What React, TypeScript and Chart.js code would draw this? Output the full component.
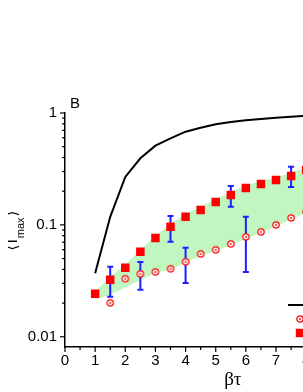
import React, { useEffect, useRef } from "react";
import { Chart, registerables } from "chart.js";

Chart.register(...registerables);

// ---------- data ----------
const xTickValues = [0, 1, 2, 3, 4, 5, 6, 7, 8, 9, 10, 11];
const yTickValues = [0.01, 0.1, 1];
const yTickLabels = ["0.01", "0.1", "1"];
const yMinorTicks = [0.02, 0.03, 0.04, 0.05, 0.06, 0.07, 0.08, 0.09, 0.2, 0.3, 0.4, 0.5, 0.6, 0.7, 0.8, 0.9];

const theoryX = [1, 1.5, 2, 2.5, 3, 3.5, 4, 4.5, 5, 5.5, 6, 6.5, 7, 7.5, 8];
const theoryY = [0.037, 0.118, 0.268, 0.394, 0.51, 0.594, 0.681, 0.739, 0.793, 0.83, 0.861, 0.884, 0.908, 0.926, 0.946];

const upperX = [1, 1.5, 2, 2.5, 3, 3.5, 4, 4.5, 5, 5.5, 6, 6.5, 7, 7.5, 8];
const upperY = [0.0242, 0.0323, 0.0413, 0.0574, 0.0765, 0.096, 0.118, 0.136, 0.16, 0.185, 0.214, 0.232, 0.252, 0.274, 0.31];

const lowerX = [1.5, 2, 2.5, 3, 3.5, 4, 4.5, 5, 5.5, 6, 6.5, 7, 7.5, 8];
const lowerY = [0.0201, 0.033, 0.0365, 0.038, 0.0405, 0.0468, 0.055, 0.0598, 0.0676, 0.0782, 0.0866, 0.1, 0.1155, 0.131];

const bandX = [1, 1.5, 2, 2.5, 3, 3.5, 4, 4.5, 5, 5.5, 6, 6.5, 7, 7.5, 8];
const bandLow = [0.0215, 0.0237, 0.0275, 0.032, 0.0371, 0.04, 0.046, 0.053, 0.058, 0.066, 0.075, 0.084, 0.097, 0.112, 0.128];
const bandHigh = [0.0255, 0.0345, 0.044, 0.06, 0.08, 0.102, 0.125, 0.145, 0.17, 0.196, 0.226, 0.246, 0.267, 0.29, 0.33];

const errX = [1.5, 2.5, 3.5, 4, 5.5, 6, 7.5];
const errLow = [0.0228, 0.0263, 0.0705, 0.0303, 0.145, 0.038, 0.218];
const errHigh = [0.0422, 0.0467, 0.1202, 0.0623, 0.223, 0.118, 0.33];

const legendLabels = ["theory", "lower bound", "upper bound"];

const SANS = '"Liberation Sans", Arial, sans-serif';

function makeCircle(): HTMLCanvasElement {
  const c = document.createElement("canvas");
  c.width = 10;
  c.height = 10;
  const g = c.getContext("2d")!;
  g.beginPath();
  g.arc(5, 5, 3.2, 0, Math.PI * 2);
  g.fillStyle = "#ffffff";
  g.fill();
  g.lineWidth = 1.2;
  g.strokeStyle = "#ff0000";
  g.stroke();
  g.beginPath();
  g.arc(5, 5, 0.9, 0, Math.PI * 2);
  g.fillStyle = "#ff0000";
  g.fill();
  return c;
}

export default function App() {
  const ref = useRef<HTMLCanvasElement | null>(null);

  useEffect(() => {
    const canvas = ref.current;
    if (!canvas) return;
    const circle = makeCircle();
    const pts = (xs: number[], ys: number[]) => xs.map((x, i) => ({ x, y: ys[i] }));

    const decor = {
      id: "decor",
      afterDatasetDraw(chart: any, args: any) {
        if (args.index !== 1) return;
        const { ctx } = chart;
        const xs = chart.scales.x;
        const ys = chart.scales.y;
        ctx.save();
        ctx.strokeStyle = "#1e1eff";
        ctx.lineWidth = 2;
        errX.forEach((xv, i) => {
          const px = xs.getPixelForValue(xv);
          const lo = ys.getPixelForValue(errLow[i]);
          const hi = ys.getPixelForValue(errHigh[i]);
          ctx.beginPath();
          ctx.moveTo(px, lo);
          ctx.lineTo(px, hi);
          ctx.moveTo(px - 3, lo);
          ctx.lineTo(px + 3, lo);
          ctx.moveTo(px - 3, hi);
          ctx.lineTo(px + 3, hi);
          ctx.stroke();
        });
        ctx.restore();
      },
      afterDraw(chart: any) {
        const { ctx, chartArea } = chart;
        const xs = chart.scales.x;
        const ys = chart.scales.y;
        ctx.save();
        ctx.strokeStyle = "#000";
        ctx.lineWidth = 1.2;
        // x ticks
        for (let v = 0; v <= 11; v += 0.5) {
          const px = xs.getPixelForValue(v);
          const len = v % 1 === 0 ? 5 : 3;
          ctx.beginPath();
          ctx.moveTo(px, chartArea.bottom);
          ctx.lineTo(px, chartArea.bottom + len);
          ctx.stroke();
        }
        // y ticks
        yTickValues.forEach((v) => {
          const py = ys.getPixelForValue(v);
          ctx.beginPath();
          ctx.moveTo(chartArea.left, py);
          ctx.lineTo(chartArea.left - 5, py);
          ctx.stroke();
        });
        yMinorTicks.forEach((v) => {
          const py = ys.getPixelForValue(v);
          ctx.beginPath();
          ctx.moveTo(chartArea.left, py);
          ctx.lineTo(chartArea.left - 3, py);
          ctx.stroke();
        });

        // panel letter
        ctx.fillStyle = "#000";
        ctx.font = `15px ${SANS}`;
        ctx.textAlign = "left";
        ctx.textBaseline = "alphabetic";
        ctx.fillText("B", chartArea.left + 5, chartArea.top - 5);

        // x title
        ctx.font = '19px "Liberation Serif", "Times New Roman", serif';
        ctx.textAlign = "center";
        ctx.fillText("βτ", (chartArea.left + chartArea.right) / 2 + 2, 377);

        // y title
        const yc = (chartArea.top + chartArea.bottom) / 2;
        ctx.translate(9, yc);
        ctx.rotate(-Math.PI / 2);
        const parts = [
          { t: "⟨", f: '15px "DejaVu Sans", sans-serif', dy: 0 },
          { t: "I", f: `16px ${SANS}`, dy: 0 },
          { t: "max", f: `11px ${SANS}`, dy: 7 },
          { t: "⟩", f: '15px "DejaVu Sans", sans-serif', dy: 0 },
        ];
        let total = 0;
        const widths = parts.map((p) => {
          ctx.font = p.f;
          const w = ctx.measureText(p.t).width + 1;
          total += w;
          return w;
        });
        let cx = -total / 2;
        ctx.textAlign = "left";
        parts.forEach((p, i) => {
          ctx.font = p.f;
          ctx.fillText(p.t, cx, p.dy);
          cx += widths[i];
        });
        ctx.setTransform(1, 0, 0, 1, 0, 0);

        // legend
        const lx = chartArea.left + 223;
        const ly = chartArea.bottom - 42;
        ctx.strokeStyle = "#000";
        ctx.lineWidth = 2;
        ctx.beginPath();
        ctx.moveTo(lx, ly);
        ctx.lineTo(lx + 24, ly);
        ctx.stroke();
        ctx.drawImage(circle, lx + 12 - 5, ly + 14 - 5);
        ctx.fillStyle = "#ff0000";
        ctx.fillRect(lx + 12 - 4.2, ly + 28 - 4.2, 8.4, 8.4);
        ctx.fillStyle = "#000";
        ctx.font = `13px ${SANS}`;
        ctx.textBaseline = "middle";
        legendLabels.forEach((l, i) => ctx.fillText(l, lx + 30, ly + i * 14));
        ctx.restore();
      },
    };

    const chart = new Chart(canvas, {
      type: "line",
      data: {
        datasets: [
          {
            label: "band-low",
            data: pts(bandX, bandLow),
            borderWidth: 0,
            pointRadius: 0,
            fill: false,
            order: 10,
          },
          {
            label: "band-high",
            data: pts(bandX, bandHigh),
            borderWidth: 0,
            pointRadius: 0,
            fill: "-1",
            backgroundColor: "rgb(192,247,192)",
            order: 9,
          },
          {
            label: legendLabels[1],
            data: pts(lowerX, lowerY),
            showLine: false,
            pointStyle: circle,
            pointRadius: 4,
            order: 2,
          },
          {
            label: legendLabels[2],
            data: pts(upperX, upperY),
            showLine: false,
            pointStyle: "rect",
            pointRadius: 6,
            pointBorderWidth: 0,
            pointBackgroundColor: "#ff0000",
            order: 1,
          },
          {
            label: legendLabels[0],
            data: pts(theoryX, theoryY),
            borderColor: "#000",
            borderWidth: 2,
            pointRadius: 0,
            tension: 0,
            fill: false,
            order: 0,
          },
        ],
      },
      options: {
        animation: false,
        responsive: false,
        events: [],
        layout: { padding: { top: 105, right: 31.4, left: 0, bottom: 0 } },
        plugins: { legend: { display: false }, tooltip: { enabled: false } },
        scales: {
          x: {
            type: "linear",
            min: 0,
            max: 11,
            grid: { display: false, drawTicks: false },
            border: { display: true, color: "#000", width: 1.5 },
            afterBuildTicks: (s: any) => {
              s.ticks = xTickValues.map((v) => ({ value: v }));
            },
            afterFit: (s: any) => {
              s.height = 45;
            },
            ticks: {
              autoSkip: false,
              maxRotation: 0,
              padding: 5,
              color: "#000",
              font: { family: SANS, size: 15 },
              callback: (v: any) => String(v),
            },
          },
          y: {
            type: "logarithmic",
            min: 0.0081,
            max: 1,
            grid: { display: false, drawTicks: false },
            border: { display: true, color: "#000", width: 1.5 },
            afterBuildTicks: (s: any) => {
              s.ticks = yTickValues.map((v) => ({ value: v }));
            },
            afterFit: (s: any) => {
              s.width = 57;
            },
            ticks: {
              autoSkip: false,
              padding: 8,
              color: "#000",
              font: { family: SANS, size: 15 },
              callback: (v: any) => {
                const i = yTickValues.findIndex((t) => Math.abs(t - v) < 1e-9);
                return i >= 0 ? yTickLabels[i] : "";
              },
            },
          },
        },
      },
      plugins: [decor],
    } as any);

    return () => chart.destroy();
  }, []);

  return (
    <div style={{ position: "fixed", left: 0, top: 0, width: 303, height: 392, overflow: "hidden", background: "#fff" }}>
      <div style={{ position: "absolute", left: 8, top: 8 }}>
        <canvas ref={ref} width={420} height={384} style={{ display: "block" }} />
      </div>
    </div>
  );
}
